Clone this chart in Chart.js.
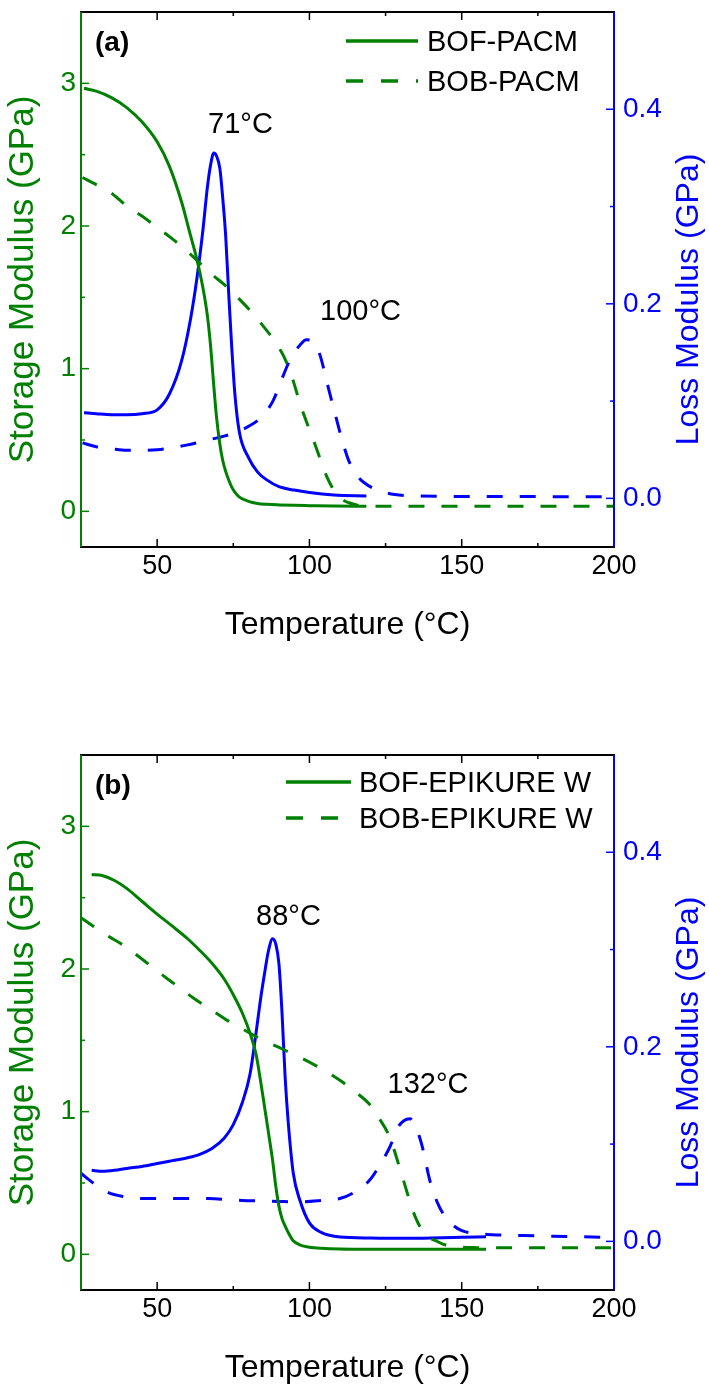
<!DOCTYPE html>
<html><head><meta charset="utf-8">
<script src="https://cdn.jsdelivr.net/npm/chart.js@4.4.1/dist/chart.umd.min.js"></script>
<style>
html,body{margin:0;padding:0;background:#fff;overflow:hidden;width:709px;height:1384px;position:relative}
canvas{position:absolute;left:0}
#ca{top:0}
#cb{top:743px}
</style></head><body>
<canvas id="ca" width="709" height="641"></canvas>
<canvas id="cb" width="709" height="641"></canvas>
<script>
// ---------- axis ticks ----------
const xTicks = [50, 100, 150, 200];
const xMinor = [75, 125, 175];
const storageTicks = [0, 1, 2, 3];
const storageMinor = [0.5, 1.5, 2.5];
const lossTicks = [0, 0.2, 0.4];
const lossMinor = [0.1, 0.3];

// ---------- panel (a): PACM ----------
const a_bofT       = [26, 30, 35, 40, 45, 50, 54, 58, 61, 63, 65, 66.5, 67.5, 68.6, 69.5, 70.6, 71.5, 72.5, 73.5, 74.5, 75.5, 77, 80, 83, 86, 90, 95, 100, 108, 118.7];
const a_bofStorage = [2.965, 2.945, 2.90, 2.83, 2.73, 2.59, 2.42, 2.17, 1.93, 1.77, 1.57, 1.37, 1.17, 0.88, 0.66, 0.47, 0.36, 0.28, 0.22, 0.17, 0.135, 0.10, 0.07, 0.055, 0.049, 0.045, 0.042, 0.040, 0.037, 0.035];
const a_bofLoss    = [0.088, 0.087, 0.086, 0.086, 0.087, 0.091, 0.107, 0.141, 0.185, 0.225, 0.275, 0.32, 0.342, 0.355, 0.352, 0.339, 0.31, 0.27, 0.21, 0.155, 0.108, 0.068, 0.042, 0.027, 0.019, 0.012, 0.0085, 0.006, 0.0035, 0.0025];

const a_bobT       = [25.5, 30, 35, 40, 45, 50, 55, 60, 64, 68, 72, 75, 80, 84, 88, 91.5, 94, 97, 99, 101.3, 103.5, 105.7, 108, 111, 113, 115.5, 118, 122, 128, 135, 150, 175, 200];
const a_bobStorage = [2.34, 2.29, 2.23, 2.14, 2.07, 1.99, 1.91, 1.82, 1.74, 1.66, 1.59, 1.53, 1.42, 1.32, 1.21, 1.09, 0.96, 0.75, 0.63, 0.50, 0.37, 0.243, 0.15, 0.08, 0.06, 0.044, 0.038, 0.036, 0.035, 0.035, 0.035, 0.035, 0.035];
const a_bobLoss    = [0.057, 0.053, 0.051, 0.0495, 0.0495, 0.050, 0.052, 0.055, 0.058, 0.061, 0.064, 0.067, 0.074, 0.083, 0.100, 0.127, 0.145, 0.158, 0.163, 0.161, 0.147, 0.12, 0.092, 0.057, 0.038, 0.024, 0.016, 0.009, 0.004, 0.0025, 0.002, 0.0018, 0.0015];

// ---------- panel (b): EPIKURE W ----------
const b_bofT       = [28.5, 32, 36, 40, 45, 50, 55, 60, 64, 68, 72, 75, 78, 80.5, 82.5, 84, 85.5, 86.5, 87.9, 89, 90, 91, 92, 93, 94.7, 97, 100, 104, 110, 120, 130, 140, 150, 158];
const b_bofStorage = [2.663, 2.655, 2.62, 2.565, 2.475, 2.385, 2.30, 2.212, 2.13, 2.04, 1.93, 1.82, 1.69, 1.55, 1.40, 1.21, 1.0, 0.86, 0.66, 0.47, 0.336, 0.25, 0.20, 0.155, 0.095, 0.065, 0.050, 0.042, 0.037, 0.035, 0.035, 0.035, 0.035, 0.035];
const b_bofLoss    = [0.073, 0.072, 0.073, 0.075, 0.077, 0.080, 0.083, 0.086, 0.0895, 0.0955, 0.106, 0.12, 0.143, 0.172, 0.215, 0.25, 0.28, 0.298, 0.311, 0.305, 0.285, 0.235, 0.17, 0.124, 0.07, 0.041, 0.019, 0.009, 0.0045, 0.0035, 0.0032, 0.0035, 0.0042, 0.0048];

const b_bobT       = [25, 29, 34, 39, 45, 51, 56, 62, 67, 73, 78, 84, 90, 97, 104, 110, 115, 119.8, 123, 126.4, 129, 131, 133, 135, 137, 139.5, 142, 144, 147, 150, 155, 160, 170, 185, 200];
const b_bobStorage = [2.36, 2.30, 2.23, 2.165, 2.07, 1.97, 1.89, 1.795, 1.725, 1.64, 1.58, 1.51, 1.45, 1.38, 1.30, 1.22, 1.14, 1.05, 0.95, 0.82, 0.65, 0.51, 0.37, 0.25, 0.17, 0.115, 0.09, 0.07, 0.058, 0.05, 0.047, 0.046, 0.046, 0.046, 0.046];
const b_bobLoss    = [0.07, 0.06, 0.05, 0.046, 0.044, 0.044, 0.044, 0.044, 0.044, 0.043, 0.042, 0.0415, 0.041, 0.0406, 0.042, 0.044, 0.051, 0.063, 0.078, 0.097, 0.117, 0.124, 0.126, 0.117, 0.098, 0.063, 0.04, 0.028, 0.017, 0.011, 0.008, 0.0068, 0.006, 0.005, 0.004];

// ---------- styling / layout ----------
const GREEN = '#008000', BLUE = '#0000ff';
const FONT = "'Liberation Sans', Arial, sans-serif";
const DASH = [16, 17];

const panels = [
  { id: 'ca', tag: '(a)', bofName: 'BOF-PACM', bobName: 'BOB-PACM',
    bof: [a_bofT, a_bofStorage, a_bofLoss], bob: [a_bobT, a_bobStorage, a_bobLoss],
    legend: { x: 346, len: 72, textX: 427, y: [41, 81] },
    notes: [{ text: '71°C', x: 240.5, y: 125 }, { text: '100°C', x: 360.5, y: 312 }] },
  { id: 'cb', tag: '(b)', bofName: 'BOF-EPIKURE W', bobName: 'BOB-EPIKURE W',
    bof: [b_bofT, b_bofStorage, b_bofLoss], bob: [b_bobT, b_bobStorage, b_bobLoss],
    legend: { x: 286, len: 65, textX: 359, y: [39, 75] },
    notes: [{ text: '88°C', x: 288.5, y: 174 }, { text: '132°C', x: 428, y: 342 }] }
];

const pts = (T, V) => T.map((t, i) => ({ x: t, y: V[i] }));

const decor = {
  id: 'decor',
  afterDraw(chart, args, opts) {
    const { ctx, chartArea: { left, right, top, bottom }, scales } = chart;
    const p = opts.panel;
    const x = scales.x, yl = scales.y, yr = scales.y2;
    ctx.save();
    const seg = (x1, y1, x2, y2, c, w) => { ctx.strokeStyle = c; ctx.lineWidth = w; ctx.beginPath(); ctx.moveTo(x1, y1); ctx.lineTo(x2, y2); ctx.stroke(); };
    // ticks (inward)
    xTicks.forEach(v => { const q = x.getPixelForValue(v); seg(q, bottom, q, bottom - 8, '#000', 1.5); seg(q, top, q, top + 8, '#000', 1.5); });
    xMinor.forEach(v => { const q = x.getPixelForValue(v); seg(q, bottom, q, bottom - 4, '#000', 1.5); seg(q, top, q, top + 4, '#000', 1.5); });
    storageTicks.forEach(v => { const q = yl.getPixelForValue(v); seg(left, q, left + 8, q, GREEN, 1.5); });
    storageMinor.forEach(v => { const q = yl.getPixelForValue(v); seg(left, q, left + 4, q, GREEN, 1.5); });
    lossTicks.forEach(v => { const q = yr.getPixelForValue(v); seg(right, q, right - 8, q, BLUE, 1.5); });
    lossMinor.forEach(v => { const q = yr.getPixelForValue(v); seg(right, q, right - 4, q, BLUE, 1.5); });
    // frame
    seg(left - 1, top, right + 1, top, '#000', 2);
    seg(left - 1, bottom, right + 1, bottom, '#000', 2);
    seg(left, top, left, bottom, GREEN, 2);
    seg(right, top, right, bottom, BLUE, 2);
    // right axis title (reads bottom to top)
    ctx.save();
    ctx.translate(689, (top + bottom) / 2 + 20);
    ctx.rotate(-Math.PI / 2);
    ctx.fillStyle = BLUE; ctx.font = '32px ' + FONT; ctx.textAlign = 'center'; ctx.textBaseline = 'middle';
    ctx.fillText('Loss Modulus (GPa)', 0, 0);
    ctx.restore();
    // panel tag
    ctx.fillStyle = '#000'; ctx.font = 'bold 28px ' + FONT; ctx.textAlign = 'left'; ctx.textBaseline = 'middle';
    ctx.fillText(p.tag, 95, 43);
    // legend
    const L = p.legend;
    ctx.font = '29px ' + FONT;
    [[p.bofName, []], [p.bobName, [17, 18]]].forEach((e, i) => {
      ctx.save(); ctx.setLineDash(e[1]); ctx.lineCap = 'butt';
      seg(L.x, L.y[i], L.x + L.len, L.y[i], GREEN, 3.5);
      ctx.restore();
      ctx.fillStyle = '#000'; ctx.textAlign = 'left'; ctx.textBaseline = 'middle';
      ctx.fillText(e[0], L.textX, L.y[i] + 2);
    });
    // peak annotations
    ctx.font = '29px ' + FONT; ctx.textAlign = 'center';
    p.notes.forEach(n => ctx.fillText(n.text, n.x, n.y));
    ctx.restore();
  }
};

const noPad = s => { s.paddingTop = 0; s.paddingBottom = 0; s.paddingLeft = 0; s.paddingRight = 0; };

panels.forEach(p => {
  const line = (data, color, dash) => ({
    data, borderColor: color, borderWidth: 3, borderDash: dash, pointRadius: 0,
    fill: false, cubicInterpolationMode: 'monotone'
  });
  const ds = [
    Object.assign(line(pts(p.bof[0], p.bof[1]), GREEN, []), { label: p.bofName, yAxisID: 'y' }),
    Object.assign(line(pts(p.bob[0], p.bob[1]), GREEN, DASH), { label: p.bobName, yAxisID: 'y' }),
    Object.assign(line(pts(p.bof[0], p.bof[2]), BLUE, []), { label: p.bofName + ' loss', yAxisID: 'y2' }),
    Object.assign(line(pts(p.bob[0], p.bob[2]), BLUE, DASH), { label: p.bobName + ' loss', yAxisID: 'y2' })
  ];
  new Chart(document.getElementById(p.id), {
    type: 'line',
    data: { datasets: ds },
    options: {
      responsive: false, animation: false, devicePixelRatio: 1,
      layout: { padding: { top: 12, left: 0, right: 0, bottom: 0 } },
      plugins: { legend: { display: false }, tooltip: { enabled: false }, decor: { panel: p } },
      scales: {
        x: {
          type: 'linear', min: 25, max: 200,
          grid: { display: false, drawTicks: false }, border: { display: false },
          afterBuildTicks: s => { s.ticks = xTicks.map(v => ({ value: v })); },
          afterFit: s => { s.height = 94; noPad(s); },
          ticks: { color: '#000', font: { family: FONT, size: 27 }, padding: 3, maxRotation: 0, autoSkip: false, callback: v => String(v) },
          title: { display: true, text: 'Temperature (°C)', color: '#000', font: { family: FONT, size: 32, lineHeight: 1 }, padding: 0 }
        },
        y: {
          type: 'linear', position: 'left', min: -0.25, max: 3.5,
          grid: { display: false, drawTicks: false }, border: { display: false },
          afterBuildTicks: s => { s.ticks = storageTicks.map(v => ({ value: v })); },
          afterFit: s => { s.width = 81; noPad(s); },
          ticks: { color: GREEN, font: { family: FONT, size: 28 }, padding: 5, callback: v => String(v) },
          title: { display: true, text: 'Storage Modulus (GPa)', color: GREEN, font: { family: FONT, size: 35 }, padding: { top: 2, bottom: 0 } }
        },
        y2: {
          type: 'linear', position: 'right', min: -0.05, max: 0.5,
          grid: { display: false, drawTicks: false }, border: { display: false },
          afterBuildTicks: s => { s.ticks = lossTicks.map(v => ({ value: v })); },
          afterFit: s => { s.width = 95; noPad(s); },
          ticks: { color: BLUE, font: { family: FONT, size: 28 }, padding: 9, callback: v => v.toFixed(1) }
        }
      }
    },
    plugins: [decor]
  });
});
</script>
</body></html>
